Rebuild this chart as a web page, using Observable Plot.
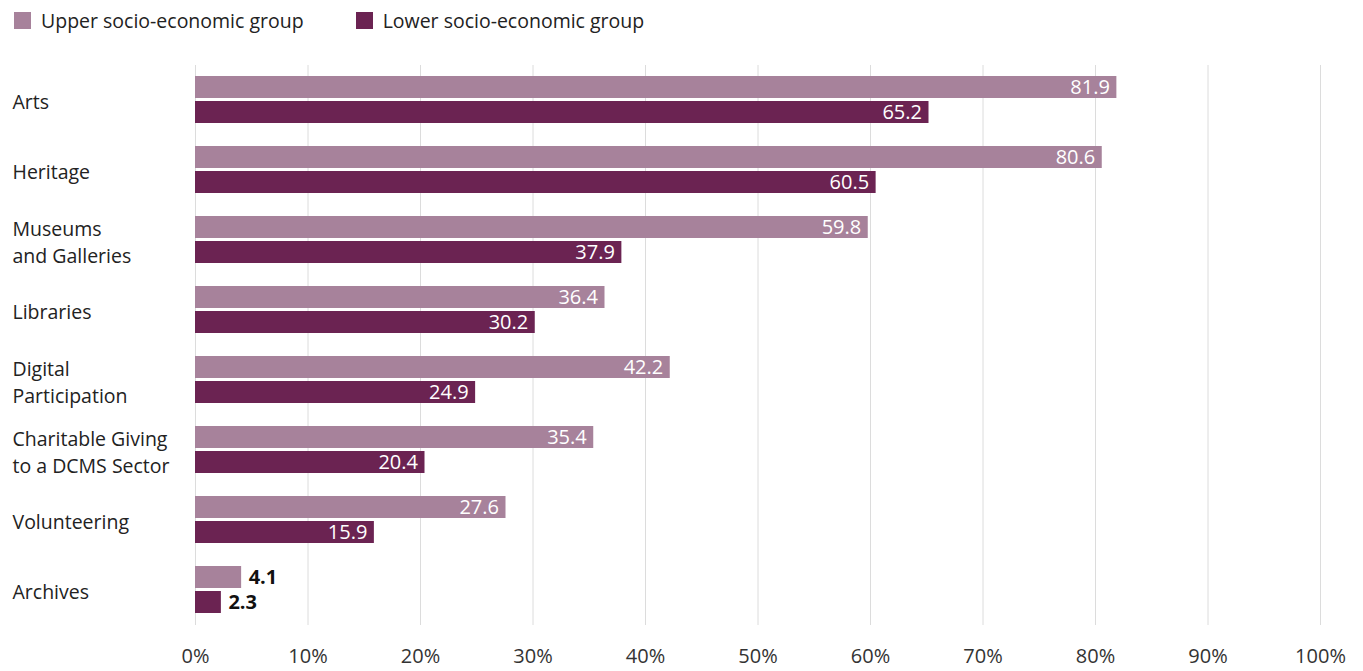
<!DOCTYPE html>
<html>
<head>
<meta charset="utf-8">
<script src="https://cdn.jsdelivr.net/npm/d3@7"></script>
<script src="https://cdn.jsdelivr.net/npm/@observablehq/plot@0.6"></script>
<style>
  body { margin: 0; background: #fff; font-family: "Open Sans", sans-serif; color: #222; }
  #legend { height: 45px; display: flex; align-items: center; font-size: 19.5px; padding-left: 14px; box-sizing: border-box; padding-bottom: 5px; }
  .item { display: flex; align-items: center; margin-right: 52px; }
  .sw { width: 17px; height: 17px; margin-right: 10px; }
  #chart svg { display: block; }
</style>
</head>
<body>
<div id="legend"></div>
<div id="chart"></div>
<script>
const categories = ["Arts", "Heritage", "Museums\nand Galleries", "Libraries", "Digital\nParticipation", "Charitable Giving\nto a DCMS Sector", "Volunteering", "Archives"];
const upper = [81.9, 80.6, 59.8, 36.4, 42.2, 35.4, 27.6, 4.1];
const lower = [65.2, 60.5, 37.9, 30.2, 24.9, 20.4, 15.9, 2.3];
const groups = ["Upper socio-economic group", "Lower socio-economic group"];
const colors = ["#a7829b", "#6b2352"];
const xTicks = [0, 10, 20, 30, 40, 50, 60, 70, 80, 90, 100];

const data = [];
categories.forEach((c, i) => {
  data.push({cat: c, group: groups[0], value: upper[i]});
  data.push({cat: c, group: groups[1], value: lower[i]});
});

const legend = document.getElementById("legend");
groups.forEach((g, i) => {
  const it = document.createElement("div");
  it.className = "item";
  it.innerHTML = `<div class="sw" style="background:${colors[i]}"></div><span>${g}</span>`;
  legend.appendChild(it);
});

const chart = Plot.plot({
  width: 1363,
  height: 626,
  marginLeft: 195,
  marginRight: 43,
  marginTop: 17,
  marginBottom: 43,
  style: {fontFamily: "'Open Sans', sans-serif", fontSize: "20px", color: "#333"},
  x: {domain: [0, 100], ticks: xTicks, tickFormat: d => d + "%", tickSize: 0, tickPadding: 23, label: null},
  y: {domain: groups, axis: null, paddingInner: 0.115, paddingOuter: 0.41, align: 0.47},
  fy: {domain: categories, axis: null, padding: 0},
  color: {domain: groups, range: colors},
  marks: [
    Plot.gridX(xTicks, {stroke: "#dcdcdc", strokeOpacity: 1}),
    Plot.barX(data, {fy: "cat", y: "group", x: "value", fill: "group"}),
    Plot.text(data.filter(d => d.value >= 10), {fy: "cat", y: "group", x: "value", text: d => d.value.toFixed(1), textAnchor: "end", dx: -7, fill: "white", fontSize: 20}),
    Plot.text(data.filter(d => d.value < 10), {fy: "cat", y: "group", x: "value", text: d => d.value.toFixed(1), textAnchor: "start", dx: 7, fill: "#111", fontWeight: "bold", fontSize: 20}),
    Plot.text(categories, {fy: d => d, text: d => d, frameAnchor: "left", dx: -183, textAnchor: "start", fill: "#222", fontSize: 19.5, lineHeight: 1.4})
  ]
});
document.getElementById("chart").appendChild(chart);
</script>
</body>
</html>
